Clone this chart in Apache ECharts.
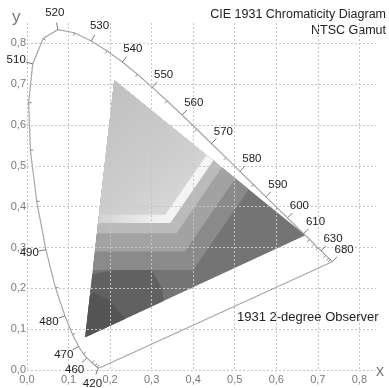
<!DOCTYPE html>
<html><head><meta charset="utf-8">
<script src="https://cdn.jsdelivr.net/npm/echarts@6/dist/echarts.min.js"></script>
<style>html,body{margin:0;padding:0;background:#fff}#c{width:389px;height:388px}</style>
</head><body><div id="c"></div>
<script>
// Spectrum locus (CIE 1931 2-degree observer)
const locusNm = [380,420,430,440,450,460,465,470,475,480,485,490,495,500,505,510,515,520,525,530,535,540,545,550,555,560,565,570,575,580,585,590,595,600,605,610,615,620,625,630,640,650,660,680];
const locusX = [0.1741,0.1714,0.1689,0.1644,0.1566,0.1440,0.1355,0.1241,0.1096,0.0913,0.0687,0.0454,0.0235,0.0082,0.0039,0.0139,0.0389,0.0743,0.1142,0.1547,0.1929,0.2296,0.2658,0.3016,0.3373,0.3731,0.4087,0.4441,0.4788,0.5125,0.5448,0.5752,0.6029,0.6270,0.6482,0.6658,0.6801,0.6915,0.7006,0.7079,0.7190,0.7260,0.7300,0.7347];
const locusY = [0.0050,0.0051,0.0069,0.0109,0.0177,0.0297,0.0399,0.0578,0.0868,0.1327,0.2007,0.2950,0.4127,0.5384,0.6548,0.7502,0.8120,0.8338,0.8262,0.8059,0.7816,0.7543,0.7243,0.6923,0.6589,0.6245,0.5896,0.5547,0.5202,0.4866,0.4544,0.4242,0.3965,0.3725,0.3514,0.3340,0.3197,0.3083,0.2993,0.2920,0.2809,0.2740,0.2700,0.2653];
const labeledNm = [420,460,470,480,490,510,520,530,540,550,560,570,580,590,600,610,630,680];

// NTSC gamut triangle (R, G, B)
const gamutX = [0.67, 0.21, 0.14];
const gamutY = [0.33, 0.71, 0.08];

// Grey shading bands inside the gamut (corner of each chevron band)
const bandCornerX = [0.40, 0.38, 0.36, 0.345, 0.333];
const bandCornerY = [0.245, 0.29, 0.335, 0.36, 0.38];
const bandDir = [0.103, 0.152];
// darker patches toward the blue primary
const shadeX = [0.10, 0.10, 0.16, 0.21, 0.30, 0.325, 0.335, 0.30];
const shadeY = [0.00, 0.215, 0.235, 0.245, 0.245, 0.20, 0.12, 0.00];
const coreX = [0.12, 0.13, 0.16, 0.20, 0.24, 0.22];
const coreY = [0.05, 0.16, 0.19, 0.17, 0.12, 0.05];

const xTickLabels = ['0,0','0,1','0,2','0,3','0,4','0,5','0,6','0,7','0,8'];
const yTickLabels = ['0,0','0,1','0,2','0,3','0,4','0,5','0,6','0,7','0,8'];

function zip(xs, ys){ return xs.map((x,i)=>[x, ys[i]]); }
const tri = zip(gamutX, gamutY);

function clipPoly(subject, clip){
  let area = 0;
  for (let i=0;i<clip.length;i++){ const a=clip[i], b=clip[(i+1)%clip.length]; area += a[0]*b[1]-b[0]*a[1]; }
  const s = area > 0 ? 1 : -1;
  let out = subject.slice();
  for (let i=0;i<clip.length && out.length;i++){
    const a = clip[i], b = clip[(i+1)%clip.length];
    const inside = p => s*((b[0]-a[0])*(p[1]-a[1]) - (b[1]-a[1])*(p[0]-a[0])) >= 0;
    const inter = (p,q) => {
      const x1=p[0],y1=p[1],x2=q[0],y2=q[1],x3=a[0],y3=a[1],x4=b[0],y4=b[1];
      const den = (x1-x2)*(y3-y4)-(y1-y2)*(x3-x4);
      const t = ((x1-x3)*(y3-y4)-(y1-y3)*(x3-x4))/den;
      return [x1+t*(x2-x1), y1+t*(y2-y1)];
    };
    const inp = out; out = [];
    for (let j=0;j<inp.length;j++){
      const cur = inp[j], prev = inp[(j+inp.length-1)%inp.length];
      const ci = inside(cur), pi = inside(prev);
      if (ci){ if (!pi) out.push(inter(prev,cur)); out.push(cur); }
      else if (pi) out.push(inter(prev,cur));
    }
  }
  return out;
}
function chevron(cx, cy){
  const K = 10;
  return [[-1, cy], [cx, cy], [cx + K*bandDir[0], cy + K*bandDir[1]], [-1, cy + K*bandDir[1]]];
}

const bandFill = [
  '#8a8a8a', '#a2a2a2', '#bababa',
  new echarts.graphic.LinearGradient(0, 0, 1, 0, [{offset:0,color:'#d2d2d2'},{offset:0.55,color:'#f2f2f2'},{offset:1,color:'#f5f5f5'}]),
  new echarts.graphic.LinearGradient(0, 0, 1, 1, [{offset:0,color:'#bfbfbf'},{offset:0.6,color:'#cdcdcd'},{offset:1,color:'#dcdcdc'}])
];

const layers = [
  {poly: tri, fill: '#747474'},
  {poly: zip(shadeX, shadeY), fill: '#616161'},
  {poly: zip(coreX, coreY), fill: '#555555'}
];
bandCornerX.forEach((cx, i) => layers.push({poly: chevron(cx, bandCornerY[i]), fill: bandFill[i]}));

const tickIdx = locusNm.map((nm,i)=>i).filter(i => locusNm[i] >= 420);
const n = locusNm.length;

const chart = echarts.init(document.getElementById('c'), null, {renderer:'canvas'});
const gridLine = {show:true, showMaxLine:false, lineStyle:{color:'#c4c4c4', type:[2,2], width:1}};
const labelFont = {color:'#7a7a7a', fontSize:11, fontFamily:'Liberation Sans, Arial, sans-serif'};
chart.setOption({
  animation:false,
  grid:{left:27, right:13, top:23, bottom:18, containLabel:false},
  xAxis:{type:'value', min:0, max:0.84, interval:0.1,
    axisLine:{show:false}, axisTick:{show:false}, splitLine:gridLine,
    axisLabel:Object.assign({margin:4, showMaxLabel:false, formatter:v=>xTickLabels[Math.round(v*10)] || ''}, labelFont)},
  yAxis:{type:'value', min:0, max:0.85, interval:0.1,
    axisLine:{show:false}, axisTick:{show:false}, splitLine:gridLine,
    axisLabel:Object.assign({margin:1, showMaxLabel:false, formatter:v=>yTickLabels[Math.round(v*10)] || ''}, labelFont)},
  series:[
    {type:'custom', coordinateSystem:'cartesian2d', z:-1, silent:true,
     data: layers.map(()=>[0.3,0.3]),
     renderItem:(params, api)=>{
       const L = layers[params.dataIndex];
       const c = clipPoly(L.poly, tri);
       if (c.length < 3) return null;
       return {type:'polygon', shape:{points:c.map(p=>api.coord(p))}, style:{fill:L.fill}};
     }},
    {type:'line', data: zip(locusX, locusY), showSymbol:false, silent:true,
     lineStyle:{color:'#a6a6a6', width:1.2}, z:3},
    {type:'line', data: [[locusX[n-1], locusY[n-1]], [locusX[0], locusY[0]]], showSymbol:false, silent:true,
     lineStyle:{color:'#a6a6a6', width:1.2}, z:3},
    {type:'custom', coordinateSystem:'cartesian2d', z:4, silent:true,
     data: tickIdx.map(i=>[locusX[i], locusY[i]]),
     renderItem:(params, api)=>{
       const i = tickIdx[params.dataIndex];
       const p = api.coord([locusX[i], locusY[i]]);
       const a = api.coord([locusX[Math.max(0,i-1)], locusY[Math.max(0,i-1)]]);
       const b = api.coord([locusX[Math.min(n-1,i+1)], locusY[Math.min(n-1,i+1)]]);
       let tx=b[0]-a[0], ty=b[1]-a[1]; const len=Math.hypot(tx,ty)||1; tx/=len; ty/=len;
       const nx = ty, ny = -tx;
       const nm = locusNm[i];
       const children = [];
       if (labeledNm.indexOf(nm) >= 0){
         children.push({type:'line', shape:{x1:p[0], y1:p[1], x2:p[0]+nx*7, y2:p[1]+ny*7}, style:{stroke:'#777', lineWidth:1}});
         children.push({type:'text', x:p[0]+nx*17, y:p[1]+ny*17,
           style:{text:String(nm), fill:'#222', font:'11.5px Liberation Sans, Arial, sans-serif', align:'center', verticalAlign:'middle'}});
       } else {
         children.push({type:'line', shape:{x1:p[0], y1:p[1], x2:p[0]-nx*3, y2:p[1]-ny*3}, style:{stroke:'#888', lineWidth:1}});
       }
       return {type:'group', children};
     }}
  ],
  graphic:[
    {type:'text', right:3, top:8, style:{text:'CIE 1931 Chromaticity Diagram', fill:'#222', font:'12.5px Liberation Sans, Arial, sans-serif'}},
    {type:'text', right:3, top:24, style:{text:'NTSC Gamut', fill:'#222', font:'12.5px Liberation Sans, Arial, sans-serif'}},
    {type:'text', left:237, top:311, style:{text:'1931 2-degree Observer', fill:'#222', font:'13px Liberation Sans, Arial, sans-serif'}},
    {type:'text', left:12, top:9, style:{text:'y', fill:'#777', font:'17px Liberation Sans, Arial, sans-serif'}},
    {type:'text', left:376, top:364, style:{text:'x', fill:'#777', font:'16px Liberation Sans, Arial, sans-serif'}}
  ]
});
</script></body></html>
